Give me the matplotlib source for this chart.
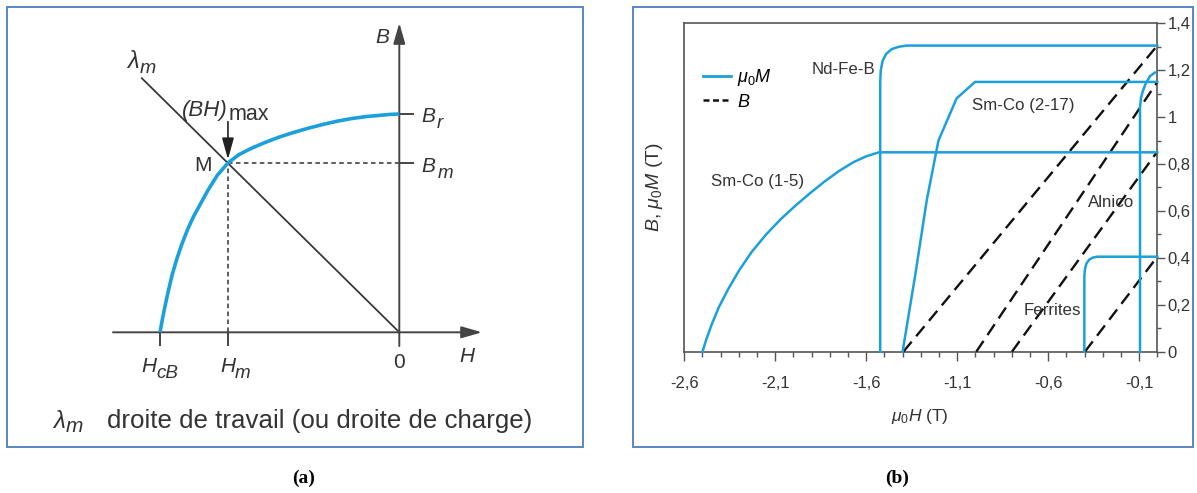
import matplotlib
matplotlib.use("Agg")
import matplotlib.pyplot as plt
from matplotlib.lines import Line2D
from matplotlib.patches import Rectangle
from matplotlib.ticker import FixedLocator, MultipleLocator, FixedFormatter
from matplotlib.font_manager import FontProperties

plt.rcParams['mathtext.fontset'] = 'custom'
plt.rcParams['mathtext.rm'] = 'Liberation Sans'
plt.rcParams['mathtext.it'] = 'Liberation Sans:italic'
plt.rcParams['mathtext.bf'] = 'Liberation Sans:bold'

# ---------------- Panel (a): schematic demagnetisation curve (normalised units) ----------------
a_curve_H = [-1.0, -0.99, -0.98, -0.965, -0.95, -0.93, -0.91, -0.885, -0.86, -0.83,
             -0.80, -0.76, -0.715, -0.67, -0.62, -0.56, -0.50, -0.44, -0.38, -0.32,
             -0.26, -0.20, -0.14, -0.08, -0.04, 0.0]
a_curve_B = [0.0, 0.06, 0.115, 0.19, 0.26, 0.335, 0.40, 0.47, 0.53, 0.59,
             0.65, 0.72, 0.777, 0.814, 0.842, 0.87, 0.895, 0.916, 0.935, 0.952,
             0.967, 0.979, 0.988, 0.994, 0.998, 1.0]
a_H_cB = -1.0
a_H_m = -0.716
a_B_r = 1.0
a_B_m = 0.777
a_load_H = [-1.076, 0.0]
a_load_B = [1.164, 0.0]
a_caption = "droite de travail (ou droite de charge)"

# ---------------- Panel (b): demagnetisation curves of permanent magnets ----------------
b_xticks = [-2.6, -2.1, -1.6, -1.1, -0.6, -0.1]
b_xticklabels = ['-2,6', '-2,1', '-1,6', '-1,1', '-0,6', '-0,1']
b_yticks = [0.0, 0.2, 0.4, 0.6, 0.8, 1.0, 1.2, 1.4]
b_yticklabels = ['0', '0,2', '0,4', '0,6', '0,8', '1', '1,2', '1,4']

ndfeb_H = [-1.523, -1.523, -1.52, -1.51, -1.49, -1.46, -1.42, -1.38, 0.0]
ndfeb_M = [0.0, 1.15, 1.20, 1.24, 1.27, 1.29, 1.30, 1.305, 1.305]
ndfeb_BH = [-1.396, 0.0]
ndfeb_B = [0.0, 1.305]

smco217_H = [-1.40, -1.33, -1.267, -1.203, -1.103, -1.002, 0.0]
smco217_M = [0.0, 0.33, 0.647, 0.90, 1.08, 1.15, 1.15]
smco217_BH = [-0.995, 0.0]
smco217_B = [0.0, 1.15]

smco15_H = [-2.50, -2.48, -2.45, -2.41, -2.36, -2.30, -2.23, -2.15, -2.07, -1.99,
            -1.91, -1.83, -1.75, -1.67, -1.60, -1.53, 0.0]
smco15_M = [0.0, 0.05, 0.115, 0.19, 0.265, 0.345, 0.425, 0.50, 0.565, 0.622,
            0.675, 0.725, 0.77, 0.808, 0.833, 0.85, 0.85]
smco15_BH = [-0.799, 0.0]
smco15_B = [0.0, 0.853]

ferr_H = [-0.401, -0.401, -0.398, -0.39, -0.375, -0.355, -0.33, -0.30, 0.0]
ferr_M = [0.0, 0.32, 0.35, 0.375, 0.392, 0.401, 0.405, 0.405, 0.405]
ferr_BH = [-0.398, 0.0]
ferr_B = [0.0, 0.405]

alnico_H = [-0.095, -0.095, -0.09, -0.08, -0.067, -0.04, -0.013]
alnico_M = [0.0, 1.04, 1.08, 1.11, 1.137, 1.175, 1.19]

b_labels = ['Nd-Fe-B', 'Sm-Co (2-17)', 'Sm-Co (1-5)', 'Alnico', 'Ferrites']
b_label_H = [-1.55, -1.02, -2.453, -0.125, -0.42]
b_label_B = [1.184, 1.030, 0.706, 0.618, 0.156]
b_label_ha = ['right', 'left', 'left', 'right', 'right']

# ---------------- styling ----------------
W, H = 1197, 493
BLUE = '#1ba0dc'
GRAY = '#444444'
TXT = '#333333'
BORDER = '#5b86c5'
FAM_A = ['Liberation Sans', 'DejaVu Sans']
FAM_B = ['Liberation Sans Narrow', 'Liberation Sans', 'DejaVu Sans']

fig = plt.figure(figsize=(W / 100, H / 100), dpi=100)
fig.patch.set_facecolor('white')

def fx(px):
    return px / W

def fy(py):
    return 1 - py / H

# frames around the two panels
for x0, x1 in [(7, 583), (633, 1193)]:
    fig.patches.append(Rectangle((fx(x0), fy(447)), fx(x1) - fx(x0), fy(7) - fy(447),
                                 transform=fig.transFigure, fill=False,
                                 edgecolor=BORDER, lw=1.4, zorder=0))
fig.text(fx(304), fy(478), '(a)', ha='center', va='center',
         family=['Liberation Serif', 'DejaVu Serif'], weight='bold', fontsize=14)
fig.text(fx(897), fy(478), '(b)', ha='center', va='center',
         family=['Liberation Serif', 'DejaVu Serif'], weight='bold', fontsize=14)

# ================= Panel (a) =================
ox, oy, ux, uy = 399.3, 332.3, 239.3, 218.3   # pixel mapping of the schematic units
axa = fig.add_axes([0, 0, fx(600), 1])
axa.set_xlim((0 - ox) / ux, (600 - ox) / ux)
axa.set_ylim((oy - H) / uy, oy / uy)
axa.axis('off')

def hx(px):
    return (px - ox) / ux

def by(py):
    return (oy - py) / uy

arrow_kw = dict(arrowstyle='-|>,head_length=1.25,head_width=0.36', color=GRAY, lw=1.4,
                shrinkA=0, shrinkB=0, mutation_scale=10)
axa.annotate('', xy=(hx(482), 0), xytext=(hx(113), 0), arrowprops=arrow_kw)
axa.annotate('', xy=(0, by(23)), xytext=(0, by(346)), arrowprops=arrow_kw)
for hv in [a_H_cB, a_H_m]:
    axa.plot([hv, hv], [0, by(346)], color=GRAY, lw=1.4, solid_capstyle='butt')
for bv in [a_B_r, a_B_m]:
    axa.plot([0, hx(414)], [bv, bv], color=GRAY, lw=1.4, solid_capstyle='butt')

axa.plot([a_H_m, 0], [a_B_m, a_B_m], color='#333333', lw=1.1, ls=(0, (3, 2.2)))
axa.plot([a_H_m, a_H_m], [0, a_B_m], color='#333333', lw=1.1, ls=(0, (3, 2.2)))
axa.plot(a_load_H, a_load_B, color='#333333', lw=1.25)
axa.plot(a_curve_H, a_curve_B, color=BLUE, lw=2.6, solid_capstyle='butt',
         solid_joinstyle='round', zorder=5)
axa.annotate('', xy=(a_H_m, a_B_m + 0.015), xytext=(a_H_m, by(121.7)),
             arrowprops=dict(arrowstyle='-|>,head_length=1.3,head_width=0.36',
                             color='#222222', lw=1.2, shrinkA=0, shrinkB=0,
                             mutation_scale=10), zorder=6)

def lab(xp, yp, s, size=15, style='italic', ha='left'):
    axa.text(hx(xp), by(yp), s, ha=ha, va='baseline', family=FAM_A, fontsize=size,
             style=style, color=TXT)

lab(141.7, 371.7, 'H'); lab(156.7, 378.3, 'cB', 13.5)
lab(220.0, 371.7, 'H'); lab(235.0, 378.3, 'm', 13.5)
lab(399.3, 368.3, '0', 15, 'normal', 'center')
lab(459.3, 361.7, 'H')
lab(375.0, 43.3, 'B')
lab(421.7, 121.7, 'B'); lab(436.7, 128.3, 'r', 13.5)
lab(421.7, 171.7, 'B'); lab(438.0, 178.3, 'm', 13.5)
lab(211.7, 170.7, 'M', 15, 'normal', 'right')
lab(181.7, 116.0, '(BH)', 16); lab(228.5, 120.0, 'max', 15.5, 'normal')
lab(127.0, 68.3, 'λ', 17); lab(140.0, 73.3, 'm', 14)
lab(53.0, 427.7, 'λ', 17.5); lab(65.5, 432.5, 'm', 15)
lab(107.0, 427.7, a_caption, 18.6, 'normal')

# ================= Panel (b) =================
L, R, T, Bt = 684.3, 1157.3, 23.3, 351.7
axb = fig.add_axes([fx(L), fy(Bt), fx(R) - fx(L), fy(T) - fy(Bt)])
axb.set_xlim(-2.6, 0.0)
axb.set_ylim(0.0, 1.4)
for sp in axb.spines.values():
    sp.set_color('#555555')
    sp.set_linewidth(1.2)

axb.xaxis.set_major_locator(FixedLocator(b_xticks))
axb.xaxis.set_major_formatter(FixedFormatter(b_xticklabels))
axb.xaxis.set_minor_locator(MultipleLocator(0.1))
axb.yaxis.set_major_locator(FixedLocator(b_yticks))
axb.yaxis.set_major_formatter(FixedFormatter(b_yticklabels))
axb.yaxis.set_minor_locator(MultipleLocator(0.1))
axb.yaxis.tick_right()
axb.tick_params(axis='both', which='both', direction='out', color='#555555', width=1.0)
axb.tick_params(axis='x', which='major', length=6.5, pad=11)
axb.tick_params(axis='x', which='minor', length=3.4)
axb.tick_params(axis='y', which='major', length=5.8, pad=1.5)
axb.tick_params(axis='y', which='minor', length=3.2)
for t in axb.get_xticklabels() + axb.get_yticklabels():
    t.set_fontfamily(FAM_B)
    t.set_fontsize(12)
    t.set_color(TXT)

dash = (0, (5.5, 3.0))
for hh, bb in [(ndfeb_BH, ndfeb_B), (smco217_BH, smco217_B), (smco15_BH, smco15_B),
               (ferr_BH, ferr_B)]:
    axb.plot(hh, bb, color='#111111', lw=1.7, ls=dash, zorder=3, clip_on=False)
for hh, mm in [(ndfeb_H, ndfeb_M), (smco217_H, smco217_M), (smco15_H, smco15_M),
               (ferr_H, ferr_M), (alnico_H, alnico_M)]:
    axb.plot(hh, mm, color=BLUE, lw=1.8, zorder=4, clip_on=False,
             solid_joinstyle='round')

for txt, xh, yb, ha in zip(b_labels, b_label_H, b_label_B, b_label_ha):
    axb.text(xh, yb, txt, ha=ha, va='baseline', family=FAM_B, fontsize=12.2,
             color=TXT, zorder=6)

handles = [Line2D([], [], color=BLUE, lw=2.0),
           Line2D([], [], color='#111111', lw=1.8, ls=(0, (2.4, 1.4)))]
axb.legend(handles, [r'$\mu_0M$', r'$B$'], loc='center left',
           bbox_to_anchor=(-2.499, 1.12), bbox_transform=axb.transData,
           frameon=False, borderpad=0, borderaxespad=0, handlelength=1.55,
           handletextpad=0.35, labelspacing=0.3,
           prop=FontProperties(family=FAM_B, size=13))

axb.set_xlabel(r'$\mu_0H$ (T)', family=FAM_B, fontsize=12.5, color=TXT)
axb.xaxis.set_label_coords((920 - L) / (R - L), (Bt - 407) / (Bt - T))
axb.set_ylabel(r'$B$, $\mu_0M$ (T)', family=FAM_B, fontsize=14, color=TXT)
axb.yaxis.set_label_position('left')
axb.yaxis.set_label_coords((665 - L) / (R - L), (Bt - 187) / (Bt - T))

fig.savefig('out.png', dpi=100, facecolor='white')
